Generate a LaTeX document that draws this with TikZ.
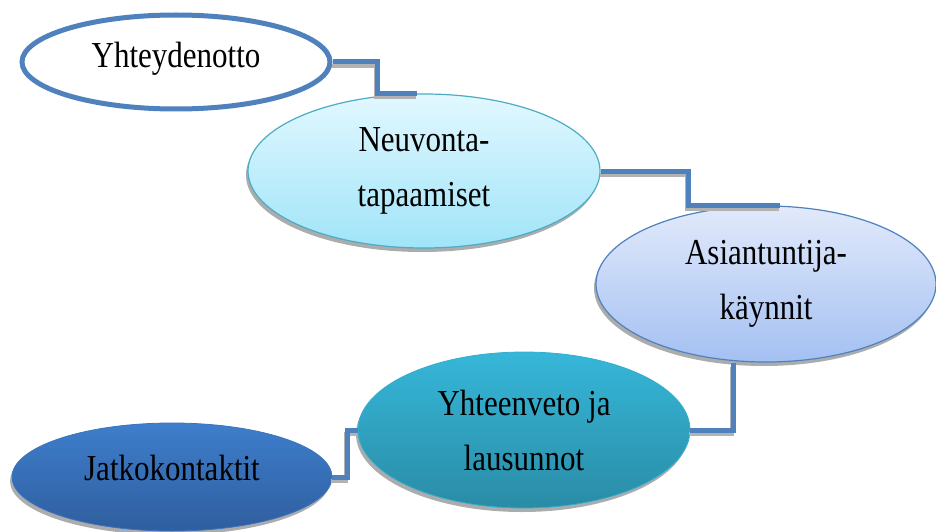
\documentclass[tikz,border=0pt]{standalone}
\usepackage{fontspec}
\setmainfont{Liberation Serif}
\usetikzlibrary{shapes.geometric,shadows}
\definecolor{cblue}{RGB}{79,129,189}
\definecolor{ctwoTop}{RGB}{226,248,255}
\definecolor{ctwoBot}{RGB}{160,228,248}
\definecolor{ctwoBd}{RGB}{75,172,198}
\definecolor{cthreeTop}{RGB}{226,234,251}
\definecolor{cthreeBot}{RGB}{164,192,242}
\definecolor{cfourTop}{RGB}{54,183,217}
\definecolor{cfourBot}{RGB}{42,140,166}
\definecolor{cfiveTop}{RGB}{62,126,204}
\definecolor{cfiveBot}{RGB}{47,94,158}
\newcommand{\tx}[1]{\scalebox{1}[1.18]{#1}}
\begin{document}
\begin{tikzpicture}[x=1pt,y=-1pt,
  ell/.style={ellipse, inner sep=0pt, font=\fontsize{31}{55}\selectfont, align=center},
  shad/.style={general shadow={fill=gray!65, shadow xshift=-2pt, shadow yshift=-4pt}},
  conn/.style={draw=cblue, line width=5pt},
  connsh/.style={draw=gray!60, line width=4pt}]
\useasboundingbox (0,0) rectangle (936,532);
\fill[white] (0,0) rectangle (936,532);

\node[ell, draw=cblue, line width=5pt, fill=white,
      minimum width=308pt, minimum height=94pt] (a) at (176,62) {\raisebox{3pt}[\height][\depth]{\tx{Yhteydenotto}}};
\node[ell, shad, top color=ctwoTop, bottom color=ctwoBot, draw=ctwoBd, line width=1.2pt,
      minimum width=352pt, minimum height=154pt] (b) at (424,171) {\tx{Neuvonta-}\\\tx{tapaamiset}};
\node[ell, shad, top color=cthreeTop, bottom color=cthreeBot, draw=cblue, line width=1.2pt,
      minimum width=340pt, minimum height=156pt] (c) at (766,284) {\tx{Asiantuntija-}\\\tx{käynnit}};
\node[ell, shad, top color=cfourTop, bottom color=cfourBot, draw=cfourTop!80!cfourBot, line width=0.8pt,
      minimum width=332pt, minimum height=156pt] (d) at (524,430) {\tx{Yhteenveto ja}\\\tx{lausunnot}};
\node[ell, shad, top color=cfiveTop, bottom color=cfiveBot, draw=cfiveTop!70!cfiveBot, line width=0.8pt,
      minimum width=320pt, minimum height=108pt] (e) at (172,477) {\raisebox{9pt}[\height][\depth]{\tx{Jatkokontaktit}}};

% connector shadows
\begin{scope}[transform canvas={xshift=-1pt,yshift=-4pt}]
  \draw[connsh] (a.east) -| (377,80) |- ([xshift=-7pt]b.north);
  \draw[connsh] (b.east) -| (688,190) |- ([xshift=14pt]c.north);
  \draw[connsh] ([xshift=-33pt]c.south) |- (d.east);
  \draw[connsh] (d.west) -| (347,455) |- (e.east);
\end{scope}
% connectors
\draw[conn] (a.east) -| (377,80) |- ([xshift=-7pt]b.north);
\draw[conn] (b.east) -| (688,190) |- ([xshift=14pt]c.north);
\draw[conn] ([xshift=-33pt]c.south) |- (d.east);
\draw[conn] (d.west) -| (347,455) |- (e.east);
\end{tikzpicture}
\end{document}
